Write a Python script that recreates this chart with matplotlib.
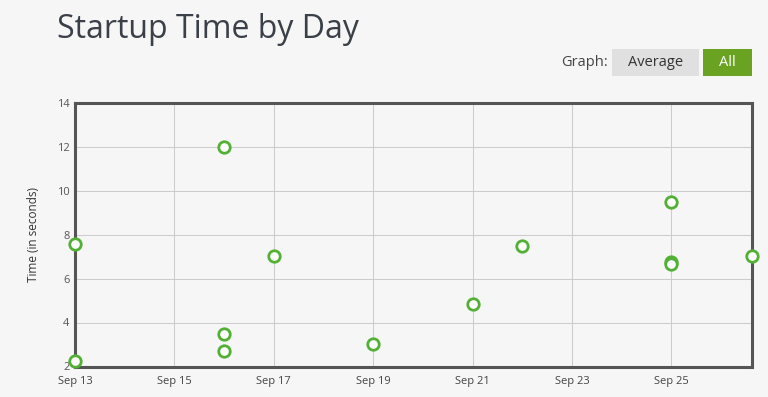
import matplotlib
matplotlib.use("Agg")
import matplotlib.pyplot as plt
from matplotlib.patches import Rectangle

# Data: day of September and startup time (seconds)
days = [13, 13, 16, 16, 16, 17, 19, 21, 22, 25, 25, 25, 26.62]
times = [7.55, 2.24, 12.0, 3.46, 2.70, 7.02, 3.02, 4.85, 7.48, 9.48, 6.75, 6.64, 7.02]
tick_days = [13, 15, 17, 19, 21, 23, 25]
tick_labels = ["Sep 13", "Sep 15", "Sep 17", "Sep 19", "Sep 21", "Sep 23", "Sep 25"]
y_ticks = [2, 4, 6, 8, 10, 12, 14]

plt.rcParams['font.family'] = ['Open Sans', 'DejaVu Sans']

W, H = 768, 397
fig = plt.figure(figsize=(W / 100, H / 100), dpi=100)
fig.patch.set_facecolor('#f6f6f6')

ax = fig.add_axes([75 / W, 30.5 / H, (752 - 75) / W, (366.5 - 102.5) / H])
ax.set_facecolor('#f6f6f6')
ax.set_xlim(13, 26.62)
ax.set_ylim(2, 14)
ax.set_xticks(tick_days)
ax.set_xticklabels(tick_labels)
ax.set_yticks(y_ticks)
ax.grid(True, color='#cccccc', linewidth=0.75)
ax.set_axisbelow(True)
for s in ax.spines.values():
    s.set_color('#555555')
    s.set_linewidth(2.2)
ax.tick_params(length=0, labelsize=8, colors='#444444')
ax.tick_params(axis='x', pad=7)
ax.tick_params(axis='y', pad=4, colors='#555555')
ax.set_ylabel('Time (in seconds)', fontsize=8.5, color='#333333', labelpad=12)

ax.scatter(days, times, s=68, facecolor='white', edgecolor='#52b034',
           linewidths=2.0, zorder=5, clip_on=False)

fig.text(57 / W, 1 - 29 / H, 'Startup Time by Day', fontsize=23, color='#3a3f48',
         va='center', ha='left')

fig.text(608 / W, 1 - 62.5 / H, 'Graph:', fontsize=10.5, color='#444444',
         va='center', ha='right')
fig.patches.append(Rectangle((612 / W, 1 - 75.7 / H), (698.7 - 612) / W, 26.7 / H,
                             transform=fig.transFigure, facecolor='#e0e0e0',
                             edgecolor='none'))
fig.text(655.3 / W, 1 - 62.5 / H, 'Average', fontsize=10.5, color='#333333',
         va='center', ha='center')
fig.patches.append(Rectangle((703 / W, 1 - 75.7 / H), (752 - 703) / W, 26.7 / H,
                             transform=fig.transFigure, facecolor='#6aa322',
                             edgecolor='none'))
fig.text(727.5 / W, 1 - 62.5 / H, 'All', fontsize=10.5, color='white',
         va='center', ha='center')

fig.savefig('out.png', dpi=100, facecolor=fig.get_facecolor())
